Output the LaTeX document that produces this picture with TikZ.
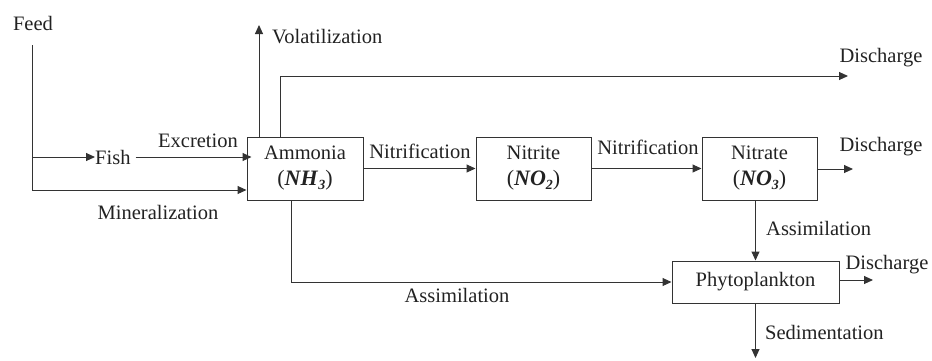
\documentclass[tikz,border=0pt]{standalone}
\usepackage{fontspec}
\setmainfont{Liberation Serif}
\usetikzlibrary{arrows.meta}
\definecolor{ink}{HTML}{222222}
\definecolor{linec}{HTML}{333333}
\newcommand{\chemf}[2]{{\fontsize{22}{26}\selectfont(\textbf{\textit{#1}}\raisebox{-0.35ex}{\fontsize{14}{14}\selectfont\bfseries\itshape #2})}}
\tikzset{
  every node/.style={text=ink, font=\fontsize{20.5}{26}\selectfont},
  box/.style={draw=linec, line width=1pt, inner sep=0pt, align=center},
  lbl/.style={inner sep=0pt},
  flow/.style={draw=linec, line width=1pt, -{Triangle[length=9pt,width=8pt]}},
  plain/.style={draw=linec, line width=1pt}
}
\begin{document}
\begin{tikzpicture}[x=1pt,y=-1pt]
\useasboundingbox (0,0) rectangle (932,360);
% boxes
\node[box, minimum width=116pt, minimum height=63pt] (ammonia) at (305,168.5) {Ammonia\\[0pt]\chemf{NH}{3}};
\node[box, minimum width=115pt, minimum height=63pt] (nitrite) at (533.5,168.5) {Nitrite\\[0pt]\chemf{NO}{2}};
\node[box, minimum width=115pt, minimum height=63pt] (nitrate) at (759.5,168.5) {Nitrate\\[0pt]\chemf{NO}{3}};
\node[box, minimum width=167pt, minimum height=42pt] (phyto) at (755.5,282) {Phytoplankton};
% inputs
\node[lbl] (feed) at (33,23) {Feed};
\node[lbl, anchor=west] (fish) at (95,157) {Fish};
\coordinate (feedtop) at (32,45);
\coordinate (fc) at (32,190);
\draw[plain] (feedtop) -- (fc);
\draw[flow] (fc) -- (fc -| ammonia.west);
\draw[flow] (fish.west -| fc) -- (fish.west);
\draw[flow] ([xshift=5pt]fish.east) -- ([xshift=5pt]fish.east -| ammonia.west);
\node[lbl] (excr) at (198,141) {Excretion};
\node[lbl] (miner) at (158,212) {Mineralization};
% volatilization and top discharge
\coordinate (volat) at (259,25);
\draw[flow] (ammonia.north -| volat) -- (volat);
\node[lbl, anchor=west] (vlbl) at (272,37) {Volatilization};
\coordinate (dis1) at (848,76);
\draw[flow] ([xshift=-25pt]ammonia.north) |- (dis1);
\node[lbl] (d1lbl) at (881,58) {Discharge};
% nitrification chain
\draw[flow] (ammonia) -- (nitrite);
\node[lbl] (nit1) at (420,151) {Nitrification};
\draw[flow] (nitrite) -- (nitrate);
\node[lbl] (nit2) at (648,147) {Nitrification};
\coordinate (dis2) at (853,169);
\draw[flow] (nitrate.east |- dis2) -- (dis2);
\node[lbl] (d2lbl) at (881,147) {Discharge};
% assimilation
\draw[flow] (nitrate.south -| phyto.north) -- (phyto.north);
\node[lbl, anchor=west] (as1) at (766,228) {Assimilation};
\draw[flow] ([xshift=-14pt]ammonia.south) |- (phyto.west);
\node[lbl] (as2) at (457,295) {Assimilation};
% phytoplankton outputs
\coordinate (dis3) at (873,280);
\draw[flow] (phyto.east |- dis3) -- (dis3);
\node[lbl] (d3lbl) at (887,265) {Discharge};
\coordinate (sed) at (755.5,358);
\draw[flow] (phyto.south) -- (sed);
\node[lbl, anchor=west] (sedlbl) at (765,332) {Sedimentation};
\end{tikzpicture}
\end{document}
